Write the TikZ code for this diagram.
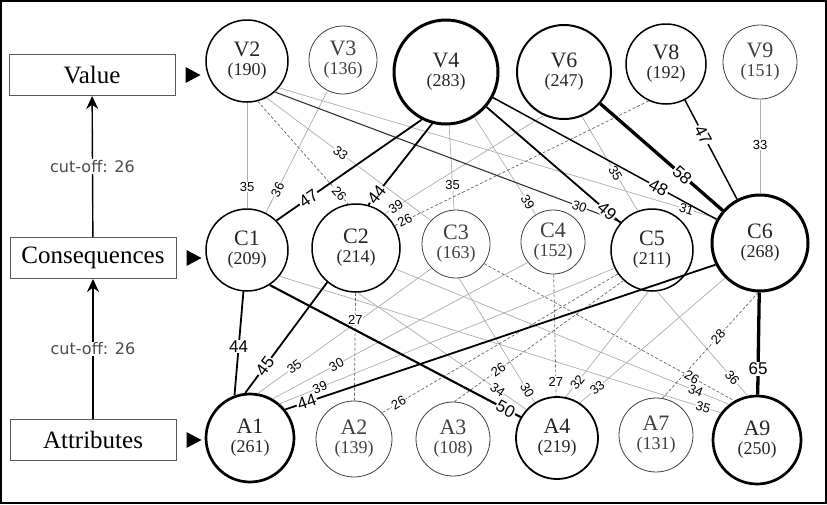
\documentclass[tikz,border=0pt]{standalone}
\usepackage{fontspec}
\setmainfont{Liberation Serif}
\setsansfont{Liberation Sans}
\newfontfamily\cutfont{DejaVu Sans}
\usetikzlibrary{arrows.meta}

\newcommand\cv[2]{{\fontsize{22}{22}\selectfont #1}\\(#2)}

\tikzset{
  nd/.style={circle, draw, fill=white, inner sep=0pt, align=center,
    font=\fontsize{18}{19}\selectfont, text=black!85},
  nd1/.style={nd, line width=.8pt, draw=black!75, text=black!75},
  nd2/.style={nd, line width=1.5pt},
  nd3/.style={nd, line width=2.7pt},
  bx/.style={draw=black!65, line width=1pt, minimum width=166pt,
    minimum height=41pt, inner sep=0pt, font=\fontsize{25}{25}\selectfont},
  up/.style={-{Stealth[length=13pt,width=12pt]}, line width=1.4pt},
  cut/.style={fill=white, inner sep=1pt, text=black!70,
    font=\cutfont\fontsize{16}{16}\selectfont},
  gl/.style={draw=black!32, line width=.7pt},
  dl/.style={draw=black!60, dashed, dash pattern=on 3pt off 2pt, line width=.7pt},
  kl/.style={draw=black!80, line width=1.1pt},
  bk/.style={line width=1.8pt},
  hv/.style={line width=3.3pt},
  el/.style={fill=white, inner sep=.5pt, font=\sffamily\fontsize{13}{13}\selectfont},
  els/.style={el, sloped},
  bl/.style={fill=white, inner sep=1pt, font=\sffamily\fontsize{17}{17}\selectfont},
  bls/.style={bl, sloped}
}

\begin{document}
\begin{tikzpicture}[x=1pt, y=-1pt]
  \useasboundingbox (0,0) rectangle (827,504);
  \draw[line width=2pt] (1,1) rectangle (826,503);

  \node[bx] (val) at (92,75) {Value};
  \node[bx] (con) at (93,258) {Consequences};
  \node[bx] (att) at (93,440) {Attributes};
  \draw[up] (con) -- node[cut]{cut-off: 26} (val);
  \draw[up] (att) -- node[cut]{cut-off: 26} (con);
  \fill ([shift={(10,-8)}]val.east) -- ++(15,8) -- ++(-15,8) -- cycle;
  \fill ([shift={(10,-8)}]con.east) -- ++(15,8) -- ++(-15,8) -- cycle;
  \fill ([shift={(10,-8)}]att.east) -- ++(15,8) -- ++(-15,8) -- cycle;

  \node[nd2, minimum size=82pt] (V2) at (247,61) {\cv{V2}{190}};
  \node[nd1, minimum size=68pt] (V3) at (343,60) {\cv{V3}{136}};
  \node[nd3, minimum size=104pt, line width=3pt] (V4) at (446,72) {\cv{V4}{283}};
  \node[nd2, minimum size=94pt, line width=2pt] (V6) at (564,72) {\cv{V6}{247}};
  \node[nd2, minimum size=80pt] (V8) at (666,64) {\cv{V8}{192}};
  \node[nd1, minimum size=74pt] (V9) at (760,62) {\cv{V9}{151}};

  \node[nd2, minimum size=82pt] (C1) at (247,250) {\cv{C1}{209}};
  \node[nd2, minimum size=88pt] (C2) at (356,248) {\cv{C2}{214}};
  \node[nd1, minimum size=68pt] (C3) at (456,244) {\cv{C3}{163}};
  \node[nd1, minimum size=64pt] (C4) at (553,242) {\cv{C4}{152}};
  \node[nd2, minimum size=82pt] (C5) at (652,250) {\cv{C5}{211}};
  \node[nd3, minimum size=96pt, line width=3pt] (C6) at (760,243) {\cv{C6}{268}};

  \node[nd3, minimum size=88pt] (A1) at (250,438) {\cv{A1}{261}};
  \node[nd1, minimum size=76pt] (A2) at (354,439) {\cv{A2}{139}};
  \node[nd1, minimum size=74pt] (A3) at (453,439) {\cv{A3}{108}};
  \node[nd2, minimum size=82pt, line width=1.8pt] (A4) at (557,438) {\cv{A4}{219}};
  \node[nd1, minimum size=74pt] (A7) at (656,435) {\cv{A7}{131}};
  \node[nd3, minimum size=88pt] (A9) at (757,440) {\cv{A9}{250}};

  \draw[gl] (V2) -- node[el, pos=.8]{35} (C1);
  \draw[gl] (V3) -- node[els, pos=.81]{36} (C1);
  \draw[gl] (V2.-62) -- node[els, pos=.45]{33} (C3.137);
  \draw[gl] (V2.-40) -- node[els, pos=.93]{31} (C6.150);
  \draw[gl] (V4) -- node[el, pos=.71]{35} (C3);
  \draw[gl] (V4) -- node[els, pos=.87]{39} (C4);
  \draw[gl] (V6.-115) -- node[els, pos=.93]{39} (C2.50);
  \draw[gl] (V6.-68) -- node[els, pos=.6]{35} (C5.110);
  \draw[gl] (V9) -- node[el, pos=.48]{33} (C6);
  \draw[gl] (C3.-135) -- node[els, pos=.79]{35} (A1.80);
  \draw[gl] (C4.-141) -- node[els, pos=.75]{30} (A1.60);
  \draw[gl] (C5.-154) -- node[els, pos=.88]{39} (A1.49);
  \draw[gl] (C5.-95) -- node[els, pos=.86]{32} (A4.78);
  \draw[gl] (C6.-135) -- node[els, pos=.88]{33} (A4.57);
  \draw[gl] (C3.-85) -- node[els, pos=.9]{30} (A4.122);
  \draw[gl] (C2.-88) -- node[els, pos=.83]{34} (A4.137);
  \draw[gl] (C2.-28) -- node[els, pos=.9]{34} (A9.128);
  \draw[gl] (C1.-39) -- node[els, pos=.96]{35} (A9.143);
  \draw[gl] (C5.-83) -- node[els, pos=.83]{36} (A9.102);

  \draw[dl] (V2.-75) -- node[els, pos=.9]{26} (C2.100);
  \draw[dl] (V8.-115) -- node[els, pos=.96]{26} (C2.30);
  \draw[dl] (C2) -- node[el, pos=.25]{27} (A2);
  \draw[dl] (C5.-145) -- node[els, pos=.93]{26} (A2.43);
  \draw[dl] (C5.-133) -- node[els, pos=.74]{26} (A3.88);
  \draw[dl] (C4) -- node[el, pos=.88]{27} (A4);
  \draw[dl] (C6.-92) -- node[els, pos=.42]{28} (A7.80);
  \draw[dl] (C3.-35) -- node[els, pos=.83]{26} (A9.120);

  \draw[kl] (V2.-48) -- node[els, pos=.88]{30} (C5.138);
  \draw[bk] (V4.-117) -- node[bls, pos=.78]{47} (C1.45);
  \draw[bk] (V4.-105) -- node[bls, pos=.87]{44} (C2.74);
  \draw[bk] (V4) -- node[bls, pos=.9]{49} (C5);
  \draw[bk, line width=1.5pt] (V4) -- node[bls, pos=.74]{48} (C6);
  \draw[hv] (V6) -- node[bls, pos=.67]{58} (C6);
  \draw[bk, line width=1.5pt] (V8) -- node[bls, pos=.35]{47} (C6);
  \draw[bk] (C1) -- node[bl, pos=.53]{44} (A1.110);
  \draw[bk] (C2.-130) -- node[bls, pos=.76]{45} (A1.96);
  \draw[bk, line width=2.1pt] (C1.-57) -- node[bls, pos=.94]{50} (A4.150);
  \draw[bk] (C6.-154) -- node[bls, pos=.95]{44} (A1.39);
  \draw[hv] (C6) -- node[bl, pos=.75]{65} (A9);
\end{tikzpicture}
\end{document}
